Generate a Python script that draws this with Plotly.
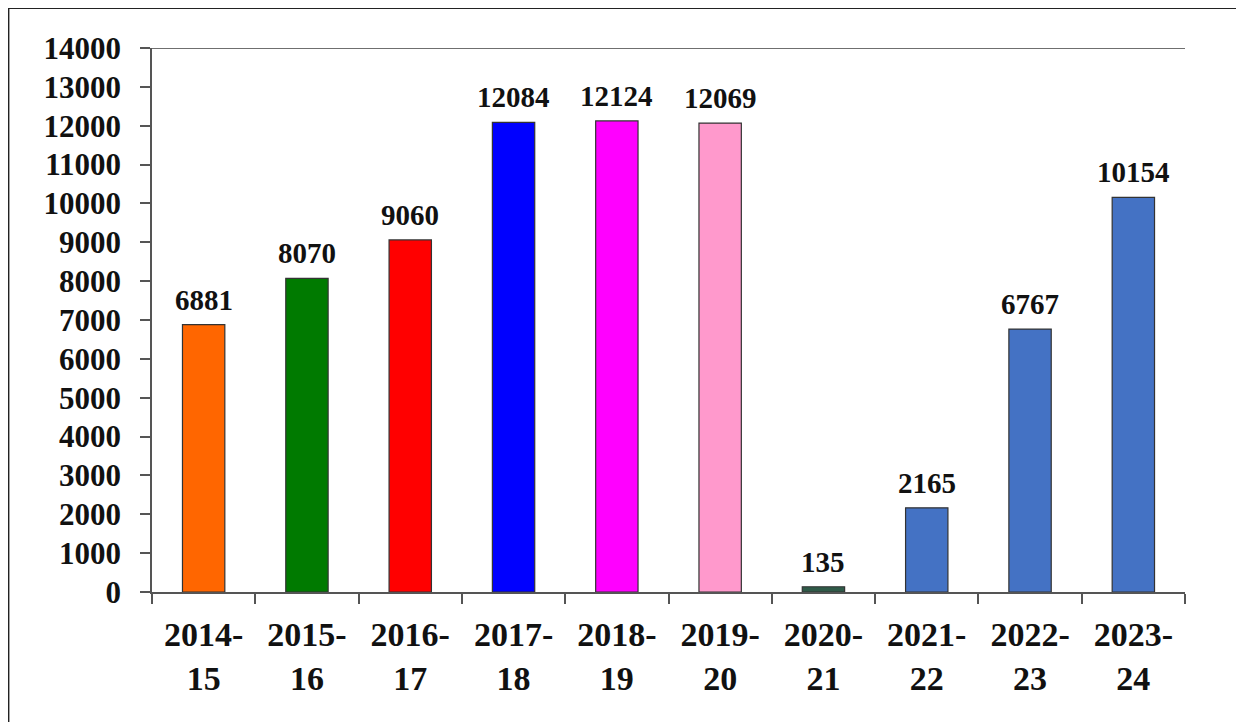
import plotly.graph_objects as go

categories = ["2014-15", "2015-16", "2016-17", "2017-18", "2018-19",
              "2019-20", "2020-21", "2021-22", "2022-23", "2023-24"]
tick_labels = ["2014-<br>15", "2015-<br>16", "2016-<br>17", "2017-<br>18", "2018-<br>19",
               "2019-<br>20", "2020-<br>21", "2021-<br>22", "2022-<br>23", "2023-<br>24"]
values = [6881, 8070, 9060, 12084, 12124, 12069, 135, 2165, 6767, 10154]
colors = ["#FF6600", "#007A00", "#FF0000", "#0000FF", "#FF00FF",
          "#FF99CC", "#2F5A48", "#4472C4", "#4472C4", "#4472C4"]
y_ticks = list(range(0, 14001, 1000))

FONT = "Liberation Serif"

fig = go.Figure()
fig.add_trace(go.Bar(
    x=categories, y=values,
    marker=dict(color=colors, line=dict(color="#333333", width=1.2)),
    width=0.41,
))

for c, v in zip(categories, values):
    fig.add_annotation(x=c, y=v, text=f"<b>{v}</b>", showarrow=False,
                       yanchor="bottom", yshift=7,
                       font=dict(family=FONT, size=29, color="#111111"))

# top line of plot area at 14000
fig.add_shape(type="line", xref="paper", x0=0, x1=1, yref="y", y0=14000, y1=14000,
              line=dict(color="#6f6f6f", width=2))
# outer frame (left and top edges)
fig.add_shape(type="line", xref="paper", yref="paper",
              x0=-0.1390, x1=-0.1390, y0=1.0735, y1=-0.26,
              line=dict(color="#222222", width=2))
fig.add_shape(type="line", xref="paper", yref="paper",
              x0=-0.1390, x1=1.08, y0=1.0735, y1=1.0735,
              line=dict(color="#222222", width=2))

fig.update_layout(
    width=1244, height=722,
    margin=dict(l=144, r=67, t=40, b=138),
    paper_bgcolor="white", plot_bgcolor="white",
    showlegend=False,
    bargap=0.59,
    xaxis=dict(
        type="category",
        tickmode="array", tickvals=categories,
        ticktext=[f"<b>{t.replace('<br>', '</b><br><b>')}</b>" for t in tick_labels],
        tickson="boundaries", ticks="outside", ticklen=10, tickcolor="#555555", tickwidth=1.5,
        showline=True, linecolor="#555555", linewidth=1.5,
        showgrid=False, zeroline=False,
        tickfont=dict(family=FONT, size=34, color="#111111"),
        ticklabelstandoff=11,
    ),
    yaxis=dict(
        range=[0, 14000],
        tickmode="array", tickvals=y_ticks, ticktext=[f"<b>{t}</b>" for t in y_ticks],
        ticks="outside", ticklen=10, tickcolor="#555555", tickwidth=1.5,
        showline=True, linecolor="#555555", linewidth=1.5,
        showgrid=False, zeroline=False,
        tickfont=dict(family=FONT, size=31, color="#111111"),
        ticklabelstandoff=13,
    ),
)

fig.write_html("out.html")
